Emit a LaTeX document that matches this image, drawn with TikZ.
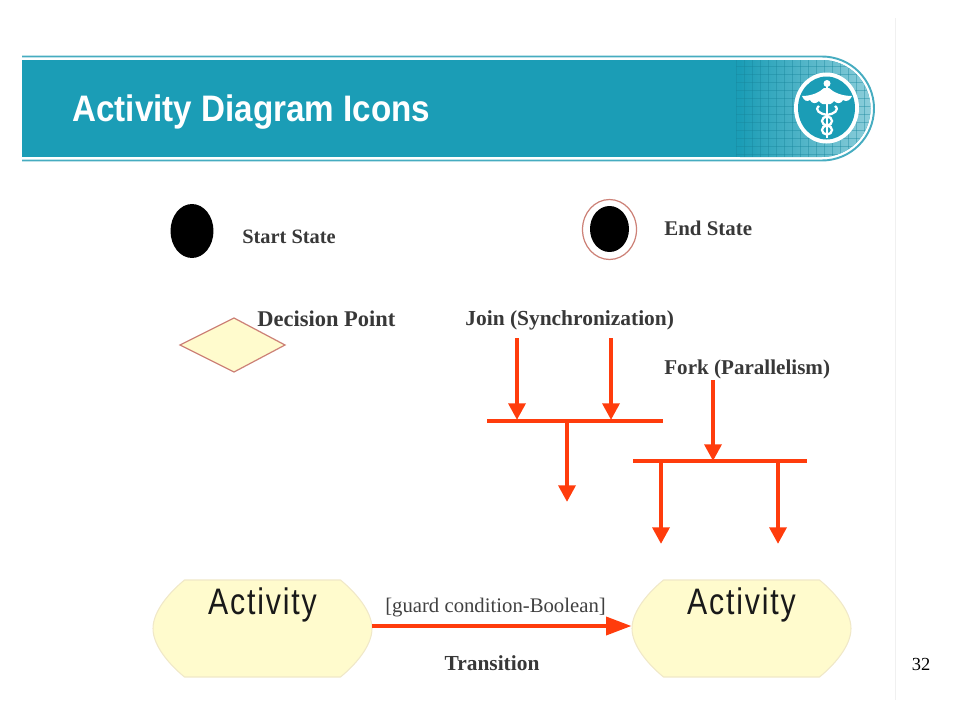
\documentclass[tikz,border=0pt]{standalone}
\usepackage{fontspec}
\setmainfont{Liberation Serif}
\newfontfamily\titlefont[FakeStretch=0.9]{Liberation Sans}
\newfontfamily\actfont[FakeStretch=0.82, LetterSpace=5]{Liberation Sans}
\definecolor{bandteal}{RGB}{27,157,182}
\definecolor{bandline}{RGB}{70,172,192}
\definecolor{flowred}{RGB}{255,60,12}
\definecolor{paleyellow}{RGB}{255,251,205}
\definecolor{edgetan}{RGB}{240,232,200}
\definecolor{edgerose}{RGB}{205,130,120}
\usetikzlibrary{arrows.meta, positioning, shapes.geometric}
\tikzset{
    iconlabel/.style={font=\bfseries\fontsize{12.2}{14}\selectfont, text=black!78, inner sep=0pt},
    flow/.style={line width=2.6pt, flowred, -{Triangle[length=9.5pt, width=9.5pt]}},
    bar/.style={line width=2.4pt, flowred},
    activitytext/.style={font=\actfont\fontsize{21}{24}\selectfont, text=black!90, inner sep=0pt},
}
\begin{document}
\begin{tikzpicture}[x=0.02cm, y=-0.02cm]
    \useasboundingbox (0, 0) rectangle (960, 720);
    \draw[black!6] (895, 18) -- (895, 700);
    % banner
    \begin{scope}
        \clip (22, 60) -- (822, 60) arc (-90:90:48.5) -- (22, 157) -- cycle;
        \fill[bandteal] (22, 60) rectangle (880, 157);
        \shade[left color=bandteal, right color=bandteal!50!white] (740, 60) rectangle (872, 157);
        \foreach \x in {736, 744, ..., 872} {
            \draw[bandteal!85!black, opacity=0.4, line width=0.5pt] (\x, 60) -- (\x, 157);
        }
        \foreach \y in {66, 74, ..., 154} {
            \draw[bandteal!85!black, opacity=0.4, line width=0.5pt] (736, \y) -- (872, \y);
        }
    \end{scope}
    \draw[bandline, line width=1.1pt] (22, 56.5) -- (822, 56.5) arc (-90:90:52) -- (22, 160.5);
    \node[font=\titlefont\bfseries\fontsize{21}{24}\selectfont, text=white, anchor=west, inner sep=0pt] (title) at (72, 112) {Activity Diagram Icons};
    % logo
    \fill[white] (826.5, 108) ellipse (32.5 and 35.5);
    \fill[bandteal] (826.5, 108) ellipse (28.5 and 31.5);
    \fill[white] (802, 96) .. controls (812, 96) and (820, 92) .. (824, 88) -- (829, 88)
        .. controls (833, 92) and (841, 96) .. (852, 96)
        .. controls (850, 101) and (846, 102) .. (843, 100)
        .. controls (841, 104) and (837, 104) .. (834, 101)
        .. controls (832, 104) and (829, 105) .. (826.5, 104)
        .. controls (824, 105) and (821, 104) .. (819, 101)
        .. controls (816, 104) and (812, 104) .. (810, 100)
        .. controls (807, 102) and (804, 101) .. (802, 96) -- cycle;
    \fill[white] (827, 83.5) circle (3.5);
    \draw[white, line width=1.1pt] (827, 84) -- (827, 138);
    \draw[white, line width=1.3pt] (819, 106) .. controls (814, 110) and (820, 114) .. (827, 115)
        .. controls (834, 114) and (840, 110) .. (835, 106);
    \foreach \y in {121, 130} {
        \draw[white, line width=1.3pt] (827, \y) ellipse (5 and 4.5);
    }
    % start and end state
    \node[ellipse, fill=black, inner sep=0pt, minimum width=0.86cm, minimum height=1.08cm] (start) at (192, 231) {};
    \node[iconlabel, anchor=west, font=\bfseries\fontsize{11.6}{13}\selectfont] (startlabel) at (242, 236.5) {Start State};
    \node[ellipse, draw=edgerose, fill=white, inner sep=0pt, minimum width=1.08cm, minimum height=1.2cm, line width=0.7pt] (endring) at (609.5, 229.5) {};
    \node[ellipse, fill=black, inner sep=0pt, minimum width=0.78cm, minimum height=0.92cm] (end) at (609.5, 229) {};
    \node[iconlabel, anchor=west, font=\bfseries\fontsize{11.9}{13}\selectfont] (endlabel) at (664, 228) {End State};
    % decision
    \draw[edgerose, fill=paleyellow, line width=0.7pt] (180, 345) -- (234, 318) -- (285, 345) -- (234, 372) -- cycle;
    \node[iconlabel, anchor=west, font=\bfseries\fontsize{12.8}{14}\selectfont] (decisionlabel) at (257, 318.5) {Decision Point};
    % join
    \node[iconlabel, anchor=west] (joinlabel) at (465, 320) {Join (Synchronization)};
    \coordinate (joinbarl) at (487, 421);
    \coordinate (joinbarr) at (663, 421);
    \draw[bar] (joinbarl) -- (joinbarr);
    \coordinate (joina) at (517, 338);
    \coordinate (joinb) at (611, 338);
    \coordinate (joinaend) at (517, 420);
    \coordinate (joinbend) at (611, 420);
    \coordinate (joinout) at (567, 421);
    \coordinate (joinoutend) at (567, 502);
    \draw[flow] (joina) -- (joinaend);
    \draw[flow] (joinb) -- (joinbend);
    \draw[flow] (joinout) -- (joinoutend);
    % fork
    \node[iconlabel, anchor=west, font=\bfseries\fontsize{12}{14}\selectfont] (forklabel) at (664, 369) {Fork (Parallelism)};
    \coordinate (forkbarl) at (633, 461);
    \coordinate (forkbarr) at (807, 461);
    \draw[bar] (forkbarl) -- (forkbarr);
    \coordinate (forkin) at (713, 380);
    \coordinate (forkinend) at (713, 461);
    \coordinate (forka) at (661, 461);
    \coordinate (forkb) at (778, 461);
    \coordinate (forkaend) at (661, 544);
    \coordinate (forkbend) at (778, 544);
    \draw[flow] (forkin) -- (forkinend);
    \draw[flow] (forka) -- (forkaend);
    \draw[flow] (forkb) -- (forkbend);
    % activities
    \foreach \x/\n in {262.5/actl, 741.5/actr} {
        \draw[edgetan, fill=paleyellow, line width=0.6pt, shift={(\x, 628.5)}]
            (-78, -48.5) -- (78, -48.5) .. controls (92, -37) and (109.5, -18) .. (109.5, 0)
            .. controls (109.5, 18) and (92, 37) .. (78, 48.5) -- (-78, 48.5)
            .. controls (-92, 37) and (-109.5, 18) .. (-109.5, 0)
            .. controls (-109.5, -18) and (-92, -37) .. (-78, -48.5) -- cycle;
        \node[inner sep=0pt, minimum width=4.38cm, minimum height=1.84cm] (\n) at (\x, 626) {};
        \node[activitytext] (\n text) at (\x, 604.5) {Activity};
    }
    \draw[flow, -{Triangle[length=14.5pt, width=10pt]}] (actl.east) -- (actr.west);
    \node[font=\fontsize{11.8}{14}\selectfont, text=black!75, inner sep=0pt] (guard) at (495.5, 607.5) {[guard condition-Boolean]};
    \node[iconlabel] (transition) at (492, 663) {Transition};
    \node[font=\fontsize{10.5}{12}\selectfont, inner sep=0pt] (pagenum) at (921, 664) {32};
\end{tikzpicture}
\end{document}
